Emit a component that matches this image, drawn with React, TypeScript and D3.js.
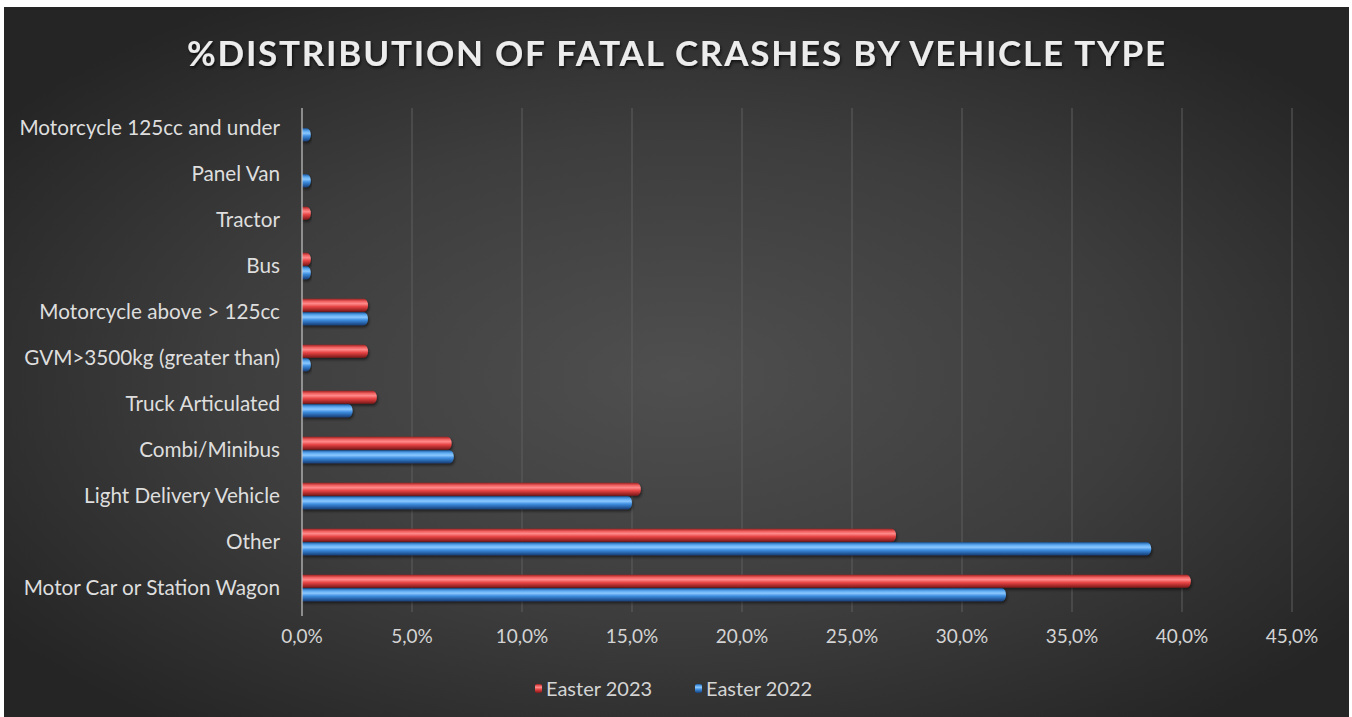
import React from "react";
import * as d3 from "d3";

const categories = [
  "Motorcycle 125cc and under",
  "Panel Van",
  "Tractor",
  "Bus",
  "Motorcycle above > 125cc",
  "GVM>3500kg (greater than)",
  "Truck Articulated",
  "Combi/Minibus",
  "Light Delivery Vehicle",
  "Other",
  "Motor Car or Station Wagon",
];
const easter2023 = [0, 0, 0.4, 0.4, 3.0, 3.0, 3.4, 6.8, 15.4, 27.0, 40.4];
const easter2022 = [0.4, 0.4, 0, 0.4, 3.0, 0.4, 2.3, 6.9, 15.0, 38.6, 32.0];
const seriesNames = ["Easter 2023", "Easter 2022"];
const xTicks = [0, 5, 10, 15, 20, 25, 30, 35, 40, 45];
const title = "%DISTRIBUTION OF FATAL CRASHES BY VEHICLE TYPE";

const W = 1352;
const H = 717;
const FONT = "Lato, 'Open Sans', sans-serif";

export default function App() {
  const x = d3.scaleLinear().domain([0, 45]).range([302, 1292]);
  const y = d3
    .scaleBand<string>()
    .domain(categories)
    .range([105, 611])
    .paddingInner(0.4)
    .paddingOuter(0.2);
  const inner = d3
    .scaleBand<string>()
    .domain(seriesNames)
    .range([0, y.bandwidth()])
    .padding(0.04);
  const bh = inner.bandwidth();
  const fmt = (v: number) => v.toFixed(1).replace(".", ",") + "%";
  const series = [
    { name: seriesNames[0], values: easter2023, grad: "gRed" },
    { name: seriesNames[1], values: easter2022, grad: "gBlue" },
  ];

  const barPath = (x0: number, x1: number, y0: number, h: number) => {
    const r = Math.min(h / 2, 4, Math.max(0, (x1 - x0) / 2));
    return `M${x0},${y0} H${x1 - r} A${r},${h / 2} 0 0 1 ${x1 - r},${y0 + h} H${x0} Z`;
  };

  return (
    <div style={{ position: "absolute", left: 0, top: 0, width: W, height: H }}>
      <svg width={W} height={H} style={{ display: "block" }}>
        <defs>
          <radialGradient id="bg" cx="0.5" cy="0.52" r="0.62">
            <stop offset="0" stopColor="#4f4f4f" />
            <stop offset="0.55" stopColor="#3d3d3d" />
            <stop offset="1" stopColor="#252525" />
          </radialGradient>
          <linearGradient id="gRed" x1="0" y1="0" x2="0" y2="1">
            <stop offset="0" stopColor="#9c1e1e" />
            <stop offset="0.2" stopColor="#f06060" />
            <stop offset="0.38" stopColor="#ff8a8a" />
            <stop offset="0.6" stopColor="#e84545" />
            <stop offset="1" stopColor="#7a1616" />
          </linearGradient>
          <linearGradient id="gBlue" x1="0" y1="0" x2="0" y2="1">
            <stop offset="0" stopColor="#1d5aa0" />
            <stop offset="0.2" stopColor="#5aa8f0" />
            <stop offset="0.38" stopColor="#8cc8ff" />
            <stop offset="0.6" stopColor="#3d8de0" />
            <stop offset="1" stopColor="#173f78" />
          </linearGradient>
          <filter id="shadow" x="-5%" y="-30%" width="110%" height="190%">
            <feDropShadow dx="1" dy="2" stdDeviation="1.5" floodColor="#000" floodOpacity="0.55" />
          </filter>
          <filter id="tshadow" x="-5%" y="-30%" width="110%" height="160%">
            <feDropShadow dx="1" dy="2" stdDeviation="1.5" floodColor="#000" floodOpacity="0.7" />
          </filter>
        </defs>
        <rect x={0} y={0} width={W} height={H} fill="#ffffff" />
        <rect x={4} y={7} width={1345} height={H - 7} fill="url(#bg)" />

        <text
          x={676}
          y={66}
          textAnchor="middle"
          fontFamily={FONT}
          fontWeight={700}
          fontSize={35}
          fill="#ececec"
          textLength={978}
          lengthAdjust="spacing"
          filter="url(#tshadow)"
        >
          {title}
        </text>

        {xTicks.slice(1).map((t) => (
          <line key={t} x1={x(t)} x2={x(t)} y1={108} y2={612} stroke="#5e5e5e" strokeWidth={1} />
        ))}

        {series.map((s) =>
          categories.map((c, i) => {
            const v = s.values[i];
            if (v <= 0) return null;
            const y0 = (y(c) as number) + (inner(s.name) as number);
            return (
              <path
                key={s.name + c}
                d={barPath(x(0), x(v), y0, bh)}
                fill={`url(#${s.grad})`}
                filter="url(#shadow)"
              />
            );
          })
        )}

        <line x1={x(0)} x2={x(0)} y1={108} y2={616} stroke="#c8c8c8" strokeWidth={1.2} />

        {categories.map((c) => (
          <text
            key={c}
            x={280}
            y={(y(c) as number) + y.bandwidth() / 2}
            dy="0.35em"
            textAnchor="end"
            fontFamily={FONT}
            fontSize={20.7}
            fill="#dedede"
          >
            {c}
          </text>
        ))}

        {xTicks.map((t) => (
          <text
            key={t}
            x={x(t)}
            y={643}
            textAnchor="middle"
            fontFamily={FONT}
            fontSize={19}
            fill="#d4d4d4"
          >
            {fmt(t)}
          </text>
        ))}

        {series.map((s, i) => {
          const lx = i === 0 ? 535 : 695;
          return (
            <g key={s.name}>
              <rect x={lx} y={684} width={7} height={9} rx={2} fill={`url(#${s.grad})`} />
              <text x={lx + 11} y={696} fontFamily={FONT} fontSize={20} fill="#d4d4d4">
                {s.name}
              </text>
            </g>
          );
        })}
      </svg>
    </div>
  );
}
